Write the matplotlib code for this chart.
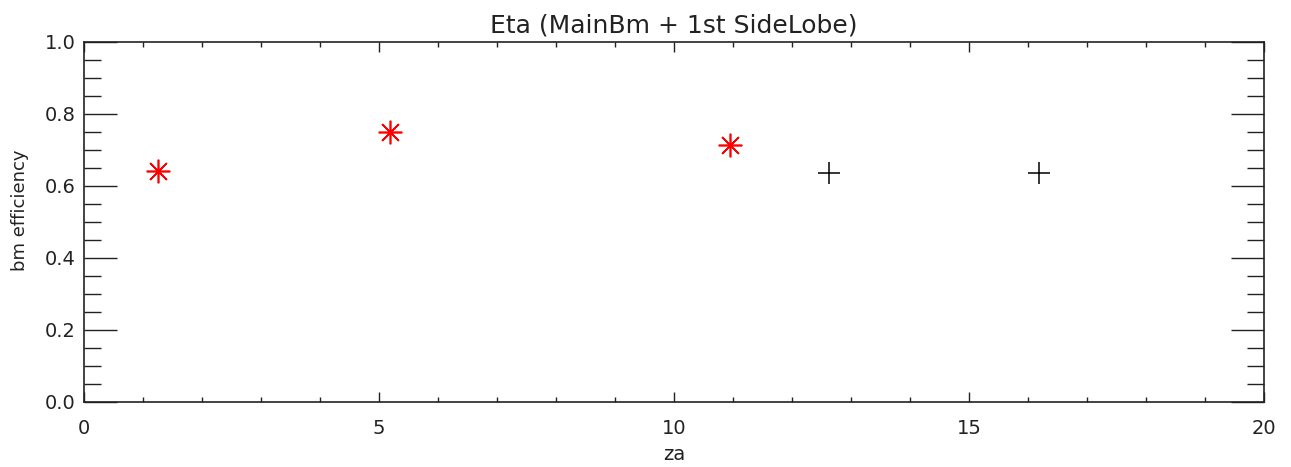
import numpy as np
import matplotlib.pyplot as plt
from matplotlib.ticker import MultipleLocator

# points
za_red = [1.25, 5.18, 10.95]
eta_red = [0.642, 0.749, 0.713]
za_blk = [12.63, 16.19]
eta_blk = [0.637, 0.637]

fig = plt.figure(figsize=(12.91, 4.67), dpi=100)
ax = fig.add_axes([0.0651, 0.1392, 0.9140, 0.7709])

ax.plot(za_red, eta_red, ls='none', marker=(8, 2, 0), ms=17, mew=1.2,
        color='red')
ax.plot(za_blk, eta_blk, ls='none', marker='+', ms=16, mew=1.1,
        color='black')

ax.set_xlim(0, 20)
ax.set_ylim(0, 1.0)
ax.xaxis.set_major_locator(MultipleLocator(5))
ax.xaxis.set_minor_locator(MultipleLocator(1))
ax.yaxis.set_major_locator(MultipleLocator(0.2))
ax.yaxis.set_minor_locator(MultipleLocator(0.05))
ax.yaxis.set_major_formatter(plt.FormatStrFormatter('%.1f'))

ax.tick_params(which='both', direction='in', top=True, right=True,
               colors='#222222', labelsize=14)
ax.tick_params(axis='x', which='major', length=7, width=1, pad=12)
ax.tick_params(axis='x', which='minor', length=3.5, width=1)
ax.tick_params(axis='y', which='major', length=24, width=1, pad=6)
ax.tick_params(axis='y', which='minor', length=12, width=1)
for s in ax.spines.values():
    s.set_linewidth(1.2)
    s.set_color('#222222')

ax.set_title('Eta (MainBm + 1st SideLobe)', fontsize=18, color='#222222',
             pad=7)
ax.set_xlabel('za', fontsize=14, color='#222222', labelpad=5)
ax.set_ylabel('bm efficiency', fontsize=13, color='#222222')
ax.yaxis.set_label_coords(-0.047, 0.533)

plt.savefig('out.png', dpi=100)
